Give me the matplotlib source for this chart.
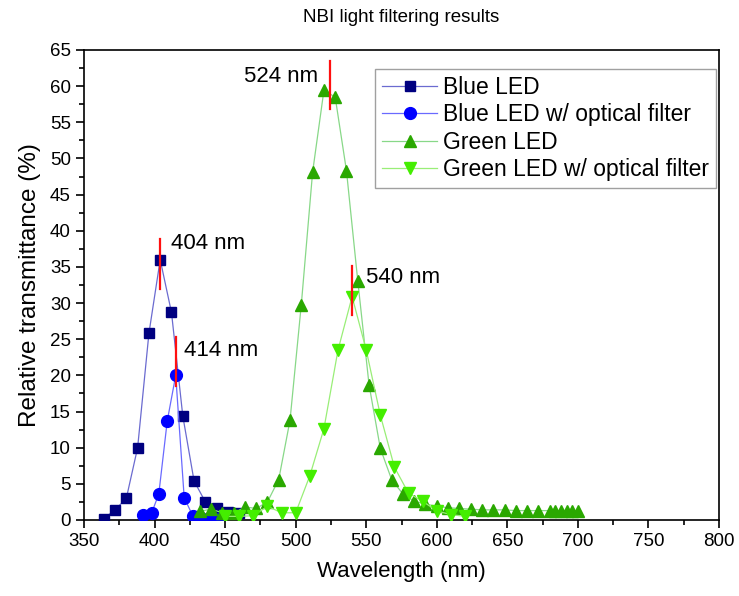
import matplotlib
matplotlib.use("Agg")
import matplotlib.pyplot as plt
from matplotlib.ticker import MultipleLocator

plt.rcParams['font.family'] = ['Liberation Sans', 'DejaVu Sans']

# Blue LED
blue_x = [364, 372, 380, 388, 396, 404, 412, 420, 428, 436, 444, 452, 460]
blue_y = [0.2, 1.4, 3.0, 10.0, 25.8, 36.0, 28.7, 14.4, 5.4, 2.5, 1.7, 1.1, 1.0]

# Blue LED with optical filter
bluef_x = [392, 398, 403, 409, 415, 421, 427, 433, 439, 445]
bluef_y = [0.7, 1.0, 3.6, 13.7, 20.0, 3.1, 0.6, 0.3, 0.3, 0.2]

# Green LED
green_x = [432, 440, 448, 456, 464, 472, 480, 488, 496, 504, 512, 520, 528,
           536, 544, 552, 560, 568, 576, 584, 592, 600, 608, 616, 624, 632,
           640, 648, 656, 664, 672, 680, 684, 688, 692, 696, 700]
green_y = [1.2, 1.5, 1.0, 0.9, 1.8, 1.6, 2.5, 5.6, 13.8, 29.8, 48.1, 59.4, 58.5,
           48.3, 33.1, 18.7, 9.9, 5.6, 3.6, 2.6, 2.2, 1.9, 1.7, 1.6, 1.5, 1.4,
           1.4, 1.4, 1.3, 1.3, 1.3, 1.3, 1.3, 1.3, 1.3, 1.3, 1.3]

# Green LED with optical filter
greenf_x = [450, 460, 470, 480, 490, 500, 510, 520, 530, 540, 550, 560, 570,
            580, 590, 600, 610, 620]
greenf_y = [0.5, 0.5, 0.6, 1.9, 1.0, 1.0, 6.1, 12.6, 23.5, 30.9, 23.5, 14.5, 7.3,
            3.7, 2.6, 1.25, 0.75, 0.5]

labels = ["Blue LED", "Blue LED w/ optical filter", "Green LED",
          "Green LED w/ optical filter"]

# Peak markers
peak_wl = [404, 415, 524, 540]
peak_lo = [32.0, 18.6, 56.8, 28.3]
peak_hi = [38.9, 25.3, 63.5, 35.1]
peak_txt = ["404 nm", "414 nm", "524 nm", "540 nm"]

fig = plt.figure(figsize=(7.39, 5.96), dpi=100)
ax = fig.add_axes([84/739, 1-520/596, 635/739, 470/596])

ax.plot(blue_x, blue_y, '-', color='#6b6bd0', lw=0.9, marker='s', ms=7.8,
        mfc='#000080', mec='#000080', label=labels[0], zorder=3)
ax.plot(bluef_x, bluef_y, '-', color='#6a6aff', lw=0.9, marker='o', ms=8.5,
        mfc='#0000ff', mec='#0000ff', label=labels[1], zorder=3)
ax.plot(green_x, green_y, '-', color='#88d888', lw=0.9, marker='^', ms=9,
        mfc='#2aa800', mec='#2aa800', label=labels[2], zorder=4)
ax.plot(greenf_x, greenf_y, '-', color='#99ee77', lw=0.9, marker='v', ms=9,
        mfc='#44ee00', mec='#44ee00', label=labels[3], zorder=4)

for wl, lo, hi in zip(peak_wl, peak_lo, peak_hi):
    ax.plot([wl, wl], [lo, hi], color='#ff1010', lw=1.6, zorder=6)

ax.text(412, 38.2, peak_txt[0], fontsize=16, va='center', ha='left')
ax.text(421, 23.5, peak_txt[1], fontsize=16, va='center', ha='left')
ax.text(516, 61.3, peak_txt[2], fontsize=16, va='center', ha='right')
ax.text(550, 33.6, peak_txt[3], fontsize=16, va='center', ha='left')

ax.set_xlim(350, 800)
ax.set_ylim(0, 65)
ax.xaxis.set_major_locator(MultipleLocator(50))
ax.xaxis.set_minor_locator(MultipleLocator(25))
ax.yaxis.set_major_locator(MultipleLocator(5))
ax.yaxis.set_minor_locator(MultipleLocator(2.5))
ax.tick_params(which='both', direction='out', top=False, right=False,
               labelsize=13.5, width=1.2)
ax.tick_params(which='major', length=6)
ax.tick_params(which='minor', length=3.5)
for s in ax.spines.values():
    s.set_linewidth(1.2)

ax.set_xlabel("Wavelength (nm)", fontsize=16, labelpad=8)
ax.set_ylabel("Relative transmittance (%)", fontsize=17.5, labelpad=6)
fig.text((84 + 719) / 2 / 739, 1 - 18/596, "NBI light filtering results",
         fontsize=13.5, ha='center', va='center')

leg = ax.legend(loc='upper right', bbox_to_anchor=(0.995, 0.96), fontsize=16.5,
                frameon=True, fancybox=False, edgecolor='#888888',
                handlelength=2.4, handletextpad=0.25, labelspacing=0.2,
                borderpad=0.3, borderaxespad=0.0)
leg.get_frame().set_linewidth(1.0)

fig.savefig("out.png", dpi=100)
